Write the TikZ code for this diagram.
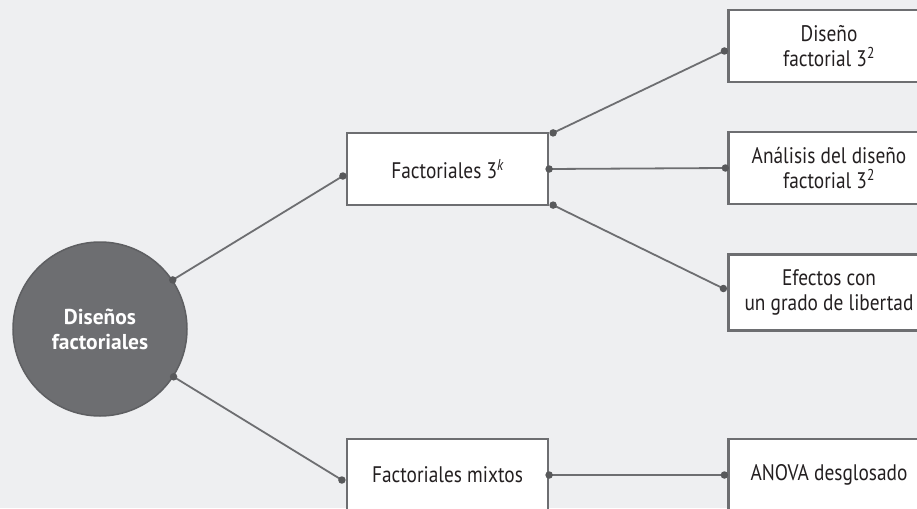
\documentclass[tikz,border=0pt]{standalone}
\usepackage{fontspec}
\setmainfont{PT Sans}[FakeStretch=0.86]
\newfontfamily\hubfont{PT Sans}
\usetikzlibrary{calc}
\definecolor{bg}{HTML}{EEEFF1}
\definecolor{edge}{HTML}{6D6E71}
\definecolor{circfill}{HTML}{6D6E71}
\definecolor{circedge}{HTML}{5E5F62}
\definecolor{txt}{HTML}{231F20}
\definecolor{dotc}{HTML}{58595B}
\begin{document}
\begin{tikzpicture}[x=1pt,y=-1pt,
  box/.style={draw=edge, line width=2.2pt, fill=white, minimum width=201pt, minimum height=72pt,
    inner sep=0pt, align=center, text=txt, font=\fontsize{22.5}{25}\selectfont},
  hub/.style={circle, draw=circedge, line width=1.5pt, fill=circfill, minimum size=174pt,
    inner sep=0pt, align=center, text=white, font=\hubfont\fontsize{21.5}{25}\selectfont\bfseries},
  link/.style={draw=edge, line width=1.8pt},
  dot/.style={fill=dotc, circle, inner sep=0pt, minimum size=7.5pt}]
\fill[bg] (0,0) rectangle (917,508);
\clip (0,0) rectangle (917,508);
\useasboundingbox (0,0) rectangle (917,508);

\node[hub] (c) at (100,329) {Diseños\\factoriales};
\node[box] (f3k) at (447.5,169) {Factoriales 3\textsuperscript{\itshape k}};
\node[box] (fmx) at (447.5,475) {Factoriales mixtos};
\node[box] (d1) at (829,46) {Diseño\\factorial 3\textsuperscript{2}};
\node[box] (d2) at (829,168) {Análisis del diseño\\factorial 3\textsuperscript{2}};
\node[box, minimum height=76pt] (d3) at (829,292.5) {Efectos con\\un grado de libertad};
\node[box] (an) at (829,475) {ANOVA desglosado};

\coordinate (c1) at (c.34);
\coordinate (c2) at (c.-33);
\coordinate (f3kin) at ([xshift=-3pt,yshift=-7pt]f3k.west);
\coordinate (f3ka) at ([xshift=4pt,yshift=-1pt]f3k.north east);
\coordinate (f3kb) at (f3k.east);
\coordinate (f3kc) at ([xshift=4pt,yshift=1pt]f3k.south east);
\coordinate (d1in) at ([xshift=-3pt,yshift=-5pt]d1.west);
\coordinate (d2in) at ([xshift=-2pt]d2.west);
\coordinate (d3in) at ([xshift=-4pt,yshift=4pt]d3.west);
\coordinate (fmxin) at ([xshift=-4pt,yshift=-5pt]fmx.west);
\coordinate (fmxout) at (fmx.east);
\coordinate (anin) at ([xshift=-3pt]an.west);

\draw[link] (c1) -- (f3kin);
\draw[link] (c2) -- (fmxin);
\draw[link] (f3ka) -- (d1in);
\draw[link] (f3kb) -- (d2in);
\draw[link] (f3kc) -- (d3in);
\draw[link] (fmxout) -- (anin);

\foreach \p in {c1,c2,f3kin,f3ka,f3kb,f3kc,d1in,d2in,d3in,fmxin,fmxout,anin}
  \node[dot] at (\p) {};
\end{tikzpicture}
\end{document}
